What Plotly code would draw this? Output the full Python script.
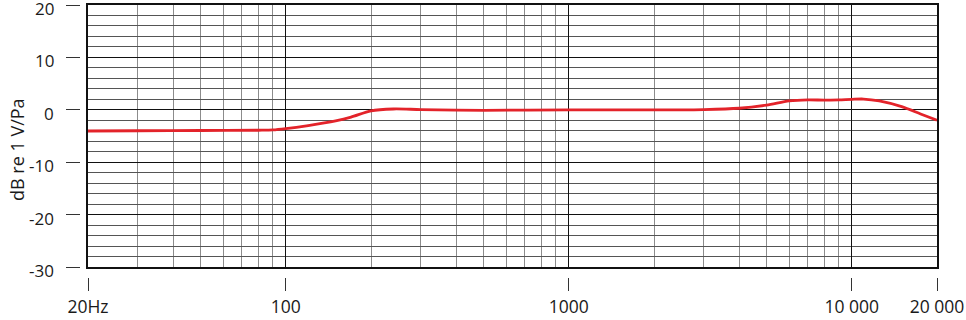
import plotly.graph_objects as go
import math

freq = [20, 30, 50, 80, 90, 100, 120, 150, 170, 200, 240, 300, 500, 1000, 2000, 3000,
        4000, 5000, 6000, 7000, 8000, 9000, 10000, 11000, 12500, 15000, 17500, 20000]
level = [-4.05, -4.0, -3.95, -3.9, -3.85, -3.6, -3.0, -2.1, -1.4, -0.2, 0.15, 0.05, -0.1, 0.0, 0.0, 0.05,
         0.3, 0.9, 1.7, 1.9, 1.85, 1.9, 2.0, 2.05, 1.7, 0.6, -0.8, -2.0]

y_ticks = [-30, -20, -10, 0, 10, 20]
y_tick_text = ["-30", "-20", "-10", "0", "10", "20"]
x_ticks = [20, 100, 1000, 10000, 20000]
x_tick_text = ["20Hz", "100", "1000", "10 000", "20 000"]
x_major_grid = [100, 1000, 10000]
x_minor_grid = [30, 40, 50, 60, 70, 80, 90, 200, 300, 400, 500, 600, 700, 800, 900,
                2000, 3000, 4000, 5000, 6000, 7000, 8000, 9000]
y_major_grid = [-20, -10, 0, 10]

W, H = 966, 320
plot_left, plot_right, plot_top, plot_bottom = 88, 937, 5, 267


def px_x(v):
    return v / W


def px_y(v):
    return (H - v) / H


FONT = "Open Sans"
xr = [math.log10(20), math.log10(20000)]
yr = [-30, 20]

fig = go.Figure()
fig.add_trace(go.Scatter(x=freq, y=level, mode="lines",
                         line=dict(color="#e3232a", width=2.8, shape="spline", smoothing=0.8),
                         hoverinfo="skip", showlegend=False))
# helper traces to register overlay axes
for xa, ya in (("x", "y2"), ("x2", "y")):
    fig.add_trace(go.Scatter(x=freq, y=level, mode="lines", xaxis=xa, yaxis=ya,
                             line=dict(width=0, color="rgba(0,0,0,0)"), hoverinfo="skip",
                             showlegend=False))

# y tick labels sit a few px below their tick marks in the reference
y_label_annotations = [
    dict(text=t, xref="paper", yref="y", x=px_x(56), y=v, yshift=-3.5,
         xanchor="right", yanchor="middle", showarrow=False,
         font=dict(size=17, family=FONT, color="#1a1a1a"))
    for v, t in zip(y_ticks, y_tick_text)
]

fig.update_layout(
    width=W, height=H,
    margin=dict(l=0, r=0, t=0, b=0, pad=0),
    paper_bgcolor="white", plot_bgcolor="white",
    font=dict(family=FONT, color="#1a1a1a", size=17),
    xaxis=dict(type="log", range=xr, domain=[px_x(plot_left), px_x(plot_right)], anchor="y",
               automargin=False,
               tickvals=x_major_grid, showticklabels=False, ticks="",
               showgrid=True, gridcolor="#111", gridwidth=1.3,
               showline=True, linecolor="#111", linewidth=2, mirror=True, zeroline=False,
               minor=dict(tickvals=x_minor_grid, showgrid=True, gridcolor="#8c8c8c", gridwidth=1, ticks="")),
    yaxis=dict(range=yr, domain=[px_y(plot_bottom), px_y(plot_top)], anchor="x",
               automargin=False,
               tickvals=y_major_grid, showticklabels=False, ticks="",
               showgrid=True, gridcolor="#111", gridwidth=1.3,
               showline=True, linecolor="#111", linewidth=2, mirror=True, zeroline=False,
               minor=dict(dtick=2, tick0=0, showgrid=True, gridcolor="#555", gridwidth=1, ticks="")),
    # tick marks (detached from the frame)
    yaxis2=dict(range=yr, overlaying="y", anchor="free", position=px_x(80), side="left",
                automargin=False, showticklabels=False,
                tickvals=y_ticks, ticks="outside", ticklen=14,
                tickcolor="#333", tickwidth=1.2,
                showgrid=False, showline=False, zeroline=False),
    xaxis2=dict(type="log", range=xr, overlaying="x", anchor="free",
                position=px_y(277), side="bottom", automargin=False, ticklabeloverflow="allow",
                tickvals=x_ticks, ticktext=x_tick_text, ticks="outside", ticklen=13,
                tickcolor="#333", tickwidth=1.2, ticklabelstandoff=1,
                showgrid=False, showline=False, zeroline=False,
                tickfont=dict(size=17.5, family=FONT, color="#1a1a1a")),
    annotations=y_label_annotations + [
        dict(text="dB re 1 V/Pa", xref="paper", yref="paper",
             x=px_x(17), y=px_y(150), xanchor="center", yanchor="middle",
             textangle=-90, showarrow=False, font=dict(size=18, family=FONT, color="#1a1a1a"))],
)

fig.write_html("out.html")
